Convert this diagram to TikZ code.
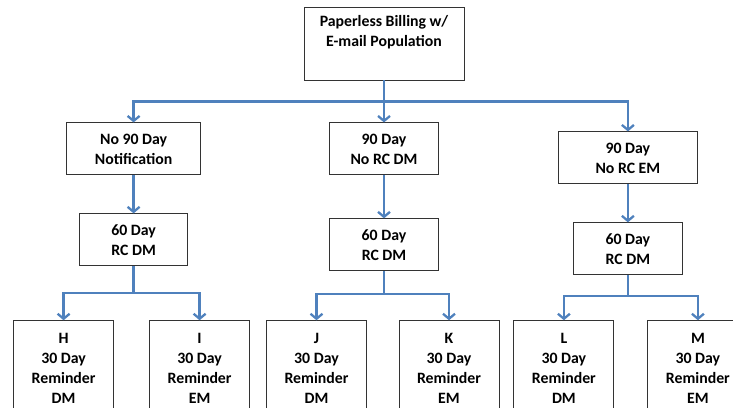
\documentclass[tikz,border=0pt]{standalone}
\usepackage{fontspec}
\setmainfont{Carlito}
\usetikzlibrary{positioning,arrows.meta}
\definecolor{flowblue}{HTML}{4F81BD}
\tikzset{
box/.style={draw=black!80, line width=0.9pt, align=center, inner sep=0pt,
  font=\bfseries\fontsize{15.8}{20}\selectfont},
stage/.style={box, minimum height=52pt},
leaf/.style={box, minimum width=100pt, minimum height=96pt},
line/.style={draw=flowblue, line width=2.3pt},
link/.style={line, -{Straight Barb[length=5pt,width=12pt]}},
}

\begin{document}
\begin{tikzpicture}
    \useasboundingbox (0,0) rectangle (733pt,-407pt);
    \clip (0,0) rectangle (733pt,-407pt);

    \node[box,minimum width=160pt,minimum height=73pt] (top) at (384pt,-43.5pt) {Paperless Billing w/\\E-mail Population\\\strut};
    \node[stage,minimum width=109pt,below=42pt of top] (mid90) {90 Day\\No RC DM};
    \node[stage,minimum width=134pt,left=128pt of mid90] (left90) {No 90 Day\\Notification};
    \node[stage,minimum width=139pt,right=119pt of mid90,yshift=-9pt] (right90) {90 Day\\No RC EM};
    \node[stage,minimum width=108pt,below=38pt of left90] (left60) {60 Day\\RC DM};
    \node[stage,minimum width=109pt,below=43pt of mid90] (mid60) {60 Day\\RC DM};
    \node[stage,minimum width=109pt,below=38pt of right90] (right60) {60 Day\\RC DM};
    \node[leaf,below=54pt of left60,xshift=-70pt] (h) {H\\30 Day\\Reminder\\DM};
    \node[leaf,below=54pt of left60,xshift=66pt] (i) {I\\30 Day\\Reminder\\EM};
    \node[leaf,below=49pt of mid60,xshift=-67.5pt] (j) {J\\30 Day\\Reminder\\DM};
    \node[leaf,below=49pt of mid60,xshift=65pt] (k) {K\\30 Day\\Reminder\\EM};
    \node[leaf,below=45pt of right60,xshift=-64pt] (l) {L\\30 Day\\Reminder\\DM};
    \node[leaf,below=45pt of right60,xshift=70pt] (m) {M\\30 Day\\Reminder\\EM};

    \coordinate[below=21pt of top] (topfork);
    \coordinate[below=27pt of left60] (leftfork);
    \coordinate[below=23pt of mid60] (midfork);
    \coordinate[below=21pt of right60] (rightfork);

    \draw[line] (top) -- (topfork);
    \draw[link] (topfork) -| (left90.north);
    \draw[link] (topfork) -- (mid90);
    \draw[link] (topfork) -| (right90.north);
    \draw[link] (left90) -- (left60);
    \draw[link] (mid90) -- (mid60);
    \draw[link] (right90) -- (right60);
    \draw[line] (left60) -- (leftfork);
    \draw[link] (leftfork) -| (h.north);
    \draw[link] (leftfork) -| (i.north);
    \draw[line] (mid60) -- (midfork);
    \draw[link] (midfork) -| (j.north);
    \draw[link] (midfork) -| (k.north);
    \draw[line] (right60) -- (rightfork);
    \draw[link] (rightfork) -| (l.north);
    \draw[link] (rightfork) -| (m.north);

     \end{tikzpicture}
\end{document}
